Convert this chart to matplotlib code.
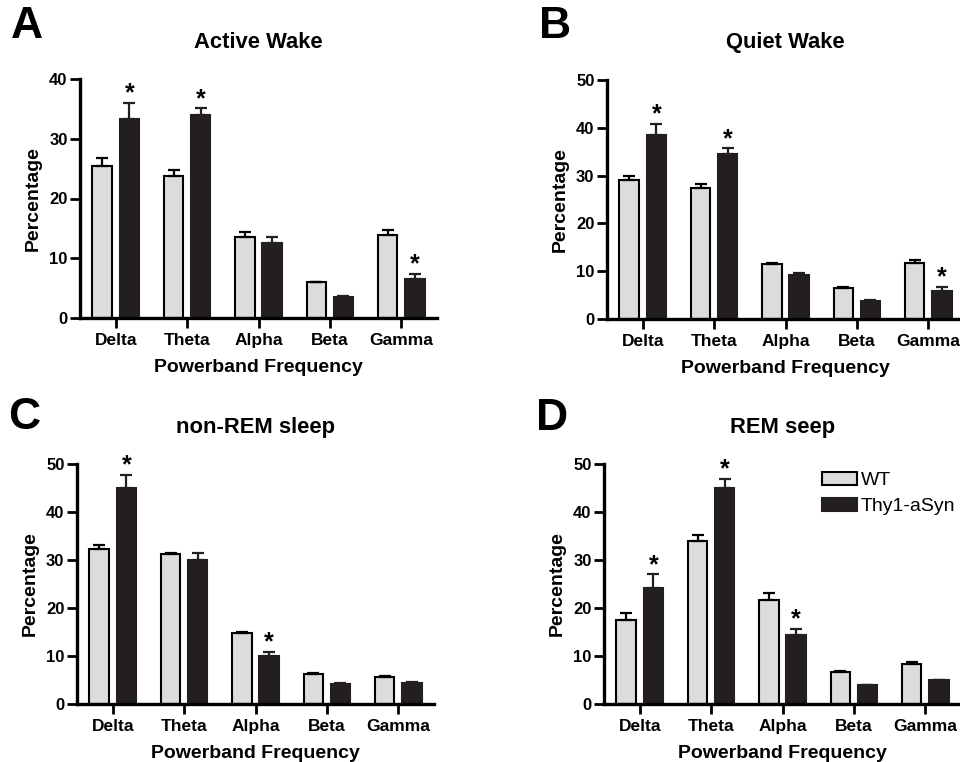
import numpy as np
import matplotlib
matplotlib.use("Agg")
import matplotlib.pyplot as plt

plt.rcParams['font.family'] = ['Liberation Sans', 'DejaVu Sans']

bands = ['Delta', 'Theta', 'Alpha', 'Beta', 'Gamma']

# Active wake
aw_wt = [25.5, 23.8, 13.6, 6.0, 13.9]
aw_wt_sem = [1.3, 1.0, 0.8, 0.1, 0.8]
aw_tg = [33.3, 34.0, 12.5, 3.5, 6.5]
aw_tg_sem = [2.7, 1.1, 1.1, 0.2, 0.9]
aw_sig = [True, True, False, False, True]

# Quiet wake
qw_wt = [29.1, 27.4, 11.5, 6.5, 11.8]
qw_wt_sem = [0.9, 0.9, 0.3, 0.2, 0.5]
qw_tg = [38.4, 34.6, 9.2, 3.7, 5.9]
qw_tg_sem = [2.4, 1.1, 0.5, 0.3, 0.8]
qw_sig = [True, True, False, False, True]

# non-REM sleep
nr_wt = [32.3, 31.2, 14.7, 6.3, 5.6]
nr_wt_sem = [0.9, 0.2, 0.3, 0.2, 0.2]
nr_tg = [44.9, 30.0, 10.0, 4.2, 4.4]
nr_tg_sem = [2.9, 1.5, 0.9, 0.2, 0.1]
nr_sig = [True, False, True, False, False]

# REM sleep
rm_wt = [17.5, 33.9, 21.7, 6.6, 8.4]
rm_wt_sem = [1.4, 1.4, 1.5, 0.2, 0.4]
rm_tg = [24.2, 45.1, 14.3, 3.9, 4.9]
rm_tg_sem = [2.8, 1.8, 1.4, 0.1, 0.1]
rm_sig = [True, True, True, False, False]

panels = [
    ('A', 'Active Wake', aw_wt, aw_wt_sem, aw_tg, aw_tg_sem, aw_sig, 40),
    ('B', 'Quiet Wake', qw_wt, qw_wt_sem, qw_tg, qw_tg_sem, qw_sig, 50),
    ('C', 'non-REM sleep', nr_wt, nr_wt_sem, nr_tg, nr_tg_sem, nr_sig, 50),
    ('D', 'REM seep', rm_wt, rm_wt_sem, rm_tg, rm_tg_sem, rm_sig, 50),
]

# axes rectangles in pixels: left, right, bottom, top
rects = [(80, 437, 318, 79), (607, 964, 319, 80),
         (77, 434, 704, 464), (604, 961, 704, 464)]
letter_pos = [(27, 27), (555, 27), (24, 418), (552, 419)]

W, H = 960, 762
fig = plt.figure(figsize=(9.6, 7.62), dpi=100)

gray = '#dcdcdc'
dark = '#231f20'
x = np.arange(len(bands))
off, bw = 0.19, 0.27

for (letter, title, wt, wt_sem, tg, tg_sem, sig, ymax), (l, r, b, t), (lx, ly) in zip(panels, rects, letter_pos):
    ax = fig.add_axes([l / W, (H - b) / H, (r - l) / W, (b - t) / H])
    wt_bars = ax.bar(x - off, wt, bw, color=gray, edgecolor='black', linewidth=1.5, label='WT')
    tg_bars = ax.bar(x + off, tg, bw, color=dark, edgecolor=dark, linewidth=1.5, label='Thy1-aSyn')
    ax.errorbar(x - off, wt, yerr=[np.zeros(len(wt)), wt_sem], fmt='none', ecolor='black',
                elinewidth=1.6, capsize=4, capthick=1.6)
    ax.errorbar(x + off, tg, yerr=[np.zeros(len(tg)), tg_sem], fmt='none', ecolor=dark,
                elinewidth=1.6, capsize=4, capthick=1.6)
    for i, s in enumerate(sig):
        if s:
            ax.annotate('*', (x[i] + off, tg[i] + tg_sem[i]), xytext=(0, -2), textcoords='offset points',
                        ha='center', va='bottom', fontsize=18, fontweight='bold', clip_on=False)

    ax.set_xlim(-0.5, 4.5)
    ax.set_ylim(0, ymax)
    ax.set_yticks(np.arange(0, ymax + 1, 10))
    ax.set_xticks(x)
    ax.set_xticklabels(bands, fontsize=12.5, fontweight='bold')
    for lab in ax.get_yticklabels():
        lab.set_fontsize(12)
        lab.set_fontweight('bold')
    ax.tick_params(axis='both', direction='out', length=7, width=2, pad=4)
    ax.tick_params(axis='y', pad=2)
    for sp in ['top', 'right']:
        ax.spines[sp].set_visible(False)
    for sp in ['left', 'bottom']:
        ax.spines[sp].set_linewidth(2.4)
    ax.set_xlabel('Powerband Frequency', fontsize=14, fontweight='bold', labelpad=8)
    ax.set_ylabel('Percentage', fontsize=14, fontweight='bold', labelpad=5)
    ax.text(0.5, 1 + 37 / (b - t), title, transform=ax.transAxes, ha='center', va='center',
            fontsize=15.8, fontweight='bold')
    fig.text(lx / W, 1 - ly / H, letter, ha='center', va='center', fontsize=32, fontweight='bold')

    if letter == 'D':
        ax.legend(handles=[wt_bars, tg_bars], loc='upper left', bbox_to_anchor=(0.61, 0.968),
                  frameon=False, fontsize=14, handlelength=1.8, handleheight=0.65,
                  handletextpad=0.2, labelspacing=0.45, borderpad=0, borderaxespad=0)

fig.savefig('out.png', dpi=100, facecolor='white')
